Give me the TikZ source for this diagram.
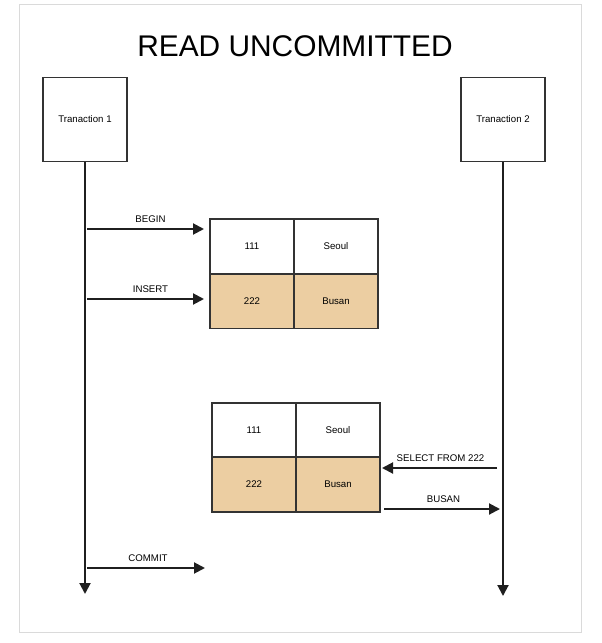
\documentclass[tikz,border=0pt]{standalone}
\usepackage{fontspec}
\setmainfont{Liberation Sans}
\usetikzlibrary{positioning, arrows.meta}

\definecolor{linegray}{RGB}{51,51,51}
\definecolor{framegray}{RGB}{218,218,218}
\definecolor{rowtan}{RGB}{236,206,162}

\begin{document}
\begin{tikzpicture}[
  x=1bp, y=-1bp,
  font=\fontsize{9.7}{11}\selectfont,
  txbox/.style={draw=linegray, line width=1.8bp, minimum width=84bp, minimum height=84bp, inner sep=0pt},
  cell/.style={draw=linegray, line width=1.8bp, minimum width=84bp, minimum height=54.5bp, inner sep=0pt, outer sep=0pt},
  newrow/.style={cell, fill=rowtan},
  msg/.style={draw=black!88, line width=2bp, -{Triangle[length=11bp, width=11bp]}},
  lbl/.style={midway, above=2bp},
]
\useasboundingbox (0,0) rectangle (602,643);
\draw[framegray, line width=1bp] (19.3,4.3) rectangle (581.7,632.3);

\node (title) at (295,46) {\fontsize{30}{34}\selectfont READ UNCOMMITTED};

% transactions and their lifelines
\node[txbox] (t1) at (85,119.5) {Tranaction 1};
\node[txbox] (t2) at (503,119.5) {Tranaction 2};
\coordinate (t1end) at (85,594);
\coordinate (t2end) at (503,596);
\draw[msg] (t1.south) -- (t1end);
\draw[msg] (t2.south) -- (t2end);

% table after insert
\node[cell, minimum height=55bp] (a11) at (252,246.5) {111};
\node[cell, minimum height=55bp, right=0pt of a11] (a12) {Seoul};
\node[newrow, below=0pt of a11] (a21) {222};
\node[newrow, below=0pt of a12] (a22) {Busan};

% table read by transaction 2
\node[cell] (b11) at (254,430) {111};
\node[cell, right=0pt of b11] (b12) {Seoul};
\node[newrow, below=0pt of b11] (b21) {222};
\node[newrow, below=0pt of b12] (b22) {Busan};

% messages
\coordinate (begin) at (87,229);
\coordinate (insert) at (87,299);
\coordinate (select) at (497,468);
\coordinate (busan) at (384,509);
\coordinate (commit) at (87,568);
\coordinate (commitend) at (205,568);

\draw[msg, shorten >=6bp] (begin) -- (begin -| a11.west) node[lbl, xshift=2bp] {BEGIN};
\draw[msg, shorten >=6bp] (insert) -- (insert -| a21.west) node[lbl, xshift=2bp] {INSERT};
\draw[msg, shorten >=2bp] (select) -- (select -| b22.east) node[lbl, xshift=2bp] {SELECT FROM 222};
\draw[msg, shorten >=3bp] (busan) -- (busan -| t2end) node[lbl] {BUSAN};
\draw[msg] (commit) -- (commitend) node[lbl, xshift=2bp] {COMMIT};
\end{tikzpicture}
\end{document}
